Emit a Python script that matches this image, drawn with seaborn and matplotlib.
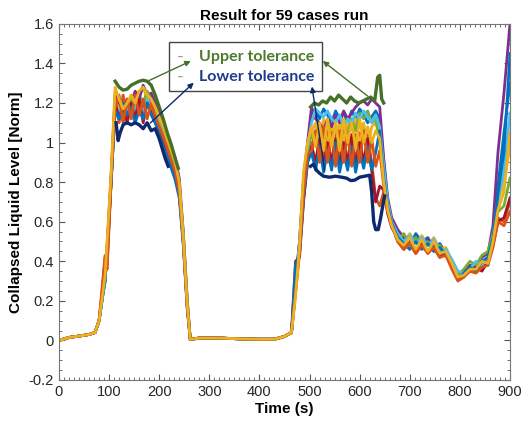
"""
Collapsed liquid level for the 59 cases run, with upper and lower tolerance.
"""

import pandas as pd
import matplotlib
matplotlib.use('Agg')
import matplotlib.pyplot as plt
import matplotlib.ticker as mticker
from matplotlib.patches import Rectangle
import seaborn as sns

# Time bases (s)
t_start = [0, 20, 40, 60, 72]
t_w1 = [80, 88, 92, 96, 104, 112, 120, 128, 136, 144, 152, 160, 168, 176, 184,
        192, 200, 208, 216, 224, 232, 240, 248, 256, 262]
t_mid = [280, 320, 360, 400, 430, 450, 464]
t_w2 = [472, 480, 488, 496, 504, 512, 520, 528, 536, 544, 552, 560, 568, 576, 584,
        592, 600, 608, 616, 624, 632, 640, 648, 656, 664, 676, 688, 700, 712, 724,
        736, 748, 760, 772, 784, 796, 808, 820, 832, 844, 856, 866, 876, 888, 900]

# Parts common to every case
start_vals = [0.0, 0.015, 0.022, 0.03, 0.04]
mid_vals = [0.012, 0.012, 0.008, 0.006, 0.006, 0.02, 0.04]

# First plateau, one row per case
w1_vals = [
    [0.10, 0.24, 0.30, 0.46, 0.80, 1.20, 1.14, 1.22, 1.12, 1.20, 1.15, 1.24, 1.18, 1.25, 1.20, 1.16, 1.12, 1.06, 1.00, 0.94, 0.88, 0.78, 0.52, 0.18, 0.005],
    [0.10, 0.30, 0.42, 0.38, 0.82, 1.22, 1.10, 1.24, 1.12, 1.22, 1.10, 1.25, 1.12, 1.22, 1.16, 1.12, 1.06, 1.02, 0.96, 0.90, 0.84, 0.74, 0.50, 0.16, 0.005],
    [0.10, 0.25, 0.32, 0.48, 0.84, 1.25, 1.18, 1.14, 1.20, 1.18, 1.24, 1.26, 1.28, 1.22, 1.24, 1.19, 1.14, 1.09, 1.03, 0.97, 0.91, 0.80, 0.54, 0.20, 0.005],
    [0.10, 0.24, 0.31, 0.47, 0.82, 1.24, 1.20, 1.16, 1.22, 1.20, 1.26, 1.22, 1.29, 1.24, 1.25, 1.20, 1.15, 1.10, 1.04, 0.98, 0.92, 0.82, 0.55, 0.20, 0.005],
    [0.10, 0.24, 0.30, 0.46, 0.80, 1.22, 1.12, 1.20, 1.16, 1.24, 1.14, 1.22, 1.20, 1.26, 1.21, 1.16, 1.11, 1.05, 0.99, 0.93, 0.87, 0.78, 0.54, 0.20, 0.005],
    [0.10, 0.24, 0.30, 0.46, 0.80, 1.18, 1.16, 1.10, 1.20, 1.12, 1.18, 1.20, 1.14, 1.22, 1.18, 1.14, 1.09, 1.03, 0.97, 0.91, 0.85, 0.76, 0.52, 0.19, 0.005],
    [0.10, 0.28, 0.40, 0.40, 0.80, 1.20, 1.12, 1.18, 1.10, 1.20, 1.12, 1.22, 1.10, 1.20, 1.15, 1.10, 1.06, 1.01, 0.95, 0.89, 0.83, 0.74, 0.50, 0.17, 0.005],
    [0.10, 0.24, 0.30, 0.46, 0.80, 1.16, 1.12, 1.20, 1.14, 1.18, 1.10, 1.16, 1.12, 1.20, 1.14, 1.10, 1.04, 0.98, 0.93, 0.87, 0.81, 0.72, 0.48, 0.16, 0.005],
    [0.10, 0.32, 0.43, 0.36, 0.80, 1.18, 1.24, 1.10, 1.22, 1.12, 1.24, 1.14, 1.22, 1.12, 1.20, 1.13, 1.08, 1.03, 0.97, 0.91, 0.85, 0.75, 0.50, 0.17, 0.005],
    [0.10, 0.25, 0.33, 0.50, 0.85, 1.28, 1.22, 1.17, 1.20, 1.24, 1.20, 1.26, 1.28, 1.24, 1.22, 1.18, 1.13, 1.08, 1.02, 0.96, 0.90, 0.80, 0.52, 0.18, 0.005],
]

# Second plateau and tail, one row per case
w2_vals = [
    [0.30, 0.50, 0.80, 0.98, 1.15, 1.16, 1.12, 1.17, 1.14, 1.10, 1.16, 1.12, 1.15, 1.10, 1.16, 1.12, 1.17, 1.14, 1.10, 1.13, 1.16, 1.12, 0.90,
     0.70, 0.60, 0.53, 0.51, 0.48, 0.54, 0.50, 0.52, 0.47, 0.49, 0.44, 0.40, 0.34, 0.33, 0.38, 0.36, 0.40, 0.38, 0.52, 0.78, 1.05, 1.30],
    [0.25, 0.45, 0.72, 0.92, 1.00, 0.88, 1.05, 0.90, 1.06, 0.88, 1.04, 0.90, 1.06, 0.88, 1.02, 0.90, 1.05, 0.88, 1.04, 0.90, 0.72, 0.68, 0.75,
     0.66, 0.58, 0.50, 0.46, 0.50, 0.45, 0.50, 0.44, 0.48, 0.43, 0.45, 0.38, 0.32, 0.34, 0.36, 0.38, 0.36, 0.42, 0.50, 0.62, 0.60, 0.70],
    [0.26, 0.48, 0.78, 0.96, 1.05, 1.10, 0.96, 1.12, 0.98, 1.10, 0.95, 1.12, 1.00, 1.10, 0.96, 1.12, 0.98, 1.10, 0.96, 1.08, 1.10, 1.04, 0.85,
     0.68, 0.60, 0.55, 0.50, 0.54, 0.49, 0.53, 0.48, 0.52, 0.46, 0.47, 0.40, 0.33, 0.32, 0.37, 0.35, 0.39, 0.40, 0.50, 0.70, 0.80, 0.98],
    [0.28, 0.50, 0.82, 1.00, 1.18, 1.12, 1.10, 1.06, 1.12, 1.08, 1.14, 1.10, 1.16, 1.12, 1.15, 1.18, 1.20, 1.21, 1.19, 1.22, 1.20, 1.18, 0.92,
     0.72, 0.62, 0.56, 0.52, 0.50, 0.52, 0.49, 0.51, 0.48, 0.46, 0.45, 0.40, 0.34, 0.35, 0.38, 0.37, 0.42, 0.44, 0.58, 0.95, 1.25, 1.60],
    [0.25, 0.46, 0.76, 0.95, 1.05, 0.98, 1.08, 1.00, 1.10, 1.02, 1.08, 0.98, 1.10, 1.04, 1.12, 1.06, 1.15, 1.12, 1.16, 1.10, 1.12, 1.00, 0.80,
     0.66, 0.60, 0.51, 0.54, 0.48, 0.52, 0.47, 0.50, 0.45, 0.48, 0.43, 0.39, 0.33, 0.36, 0.40, 0.38, 0.43, 0.45, 0.54, 0.65, 0.68, 0.82],
    [0.27, 0.48, 0.80, 0.98, 1.10, 1.17, 1.15, 1.13, 1.16, 1.12, 1.10, 1.14, 1.08, 1.12, 1.10, 1.15, 1.12, 1.16, 1.13, 1.10, 1.14, 1.08, 0.88,
     0.70, 0.60, 0.54, 0.50, 0.53, 0.49, 0.52, 0.48, 0.51, 0.45, 0.46, 0.41, 0.35, 0.34, 0.36, 0.40, 0.38, 0.41, 0.53, 0.72, 0.85, 1.15],
    [0.40, 0.42, 0.70, 0.90, 0.98, 0.90, 1.02, 0.88, 1.00, 0.90, 1.02, 0.88, 1.00, 0.90, 1.04, 0.88, 1.00, 0.90, 1.02, 0.86, 0.70, 0.78, 0.76,
     0.64, 0.57, 0.52, 0.47, 0.49, 0.44, 0.49, 0.45, 0.47, 0.42, 0.44, 0.37, 0.31, 0.33, 0.35, 0.37, 0.35, 0.40, 0.48, 0.60, 0.62, 0.72],
    [0.38, 0.44, 0.72, 0.90, 0.95, 0.86, 0.98, 0.85, 0.96, 0.86, 1.00, 0.85, 0.95, 0.86, 0.98, 0.85, 0.96, 0.87, 0.98, 0.86, 0.95, 1.06, 0.82,
     0.67, 0.59, 0.52, 0.49, 0.46, 0.50, 0.46, 0.49, 0.45, 0.47, 0.43, 0.38, 0.31, 0.34, 0.37, 0.35, 0.40, 0.42, 0.52, 0.74, 0.95, 1.45],
    [0.24, 0.44, 0.74, 0.94, 0.96, 1.06, 0.90, 1.08, 0.90, 1.05, 0.88, 1.06, 0.90, 1.05, 0.88, 1.04, 0.90, 1.06, 0.90, 1.02, 0.88, 0.96, 0.78,
     0.65, 0.58, 0.50, 0.46, 0.49, 0.44, 0.48, 0.44, 0.47, 0.42, 0.43, 0.36, 0.30, 0.32, 0.35, 0.34, 0.37, 0.38, 0.47, 0.60, 0.58, 0.65],
    [0.22, 0.48, 0.85, 1.00, 1.08, 0.98, 1.10, 0.96, 1.12, 0.98, 1.10, 0.96, 1.12, 1.00, 1.10, 0.97, 1.12, 1.00, 1.08, 1.00, 1.06, 1.02, 0.80,
     0.66, 0.58, 0.51, 0.48, 0.52, 0.46, 0.51, 0.45, 0.50, 0.44, 0.45, 0.39, 0.32, 0.33, 0.36, 0.36, 0.40, 0.39, 0.50, 0.66, 0.75, 1.05],
]

# Tolerance envelopes
upper1_t = [112, 120, 128, 136, 144, 152, 160, 168, 176, 184, 192, 200, 208, 216, 224, 232, 238]
upper1_v = [1.31, 1.28, 1.265, 1.27, 1.29, 1.30, 1.31, 1.315, 1.31, 1.29, 1.24, 1.18, 1.12, 1.05, 0.99, 0.92, 0.87]
lower1_t = [114, 118, 122, 128, 136, 144, 152, 160, 168, 176, 184, 192, 200, 206, 212, 218]
lower1_v = [1.10, 1.01, 1.05, 1.09, 1.10, 1.09, 1.10, 1.09, 1.07, 1.10, 1.06, 1.07, 1.02, 0.97, 0.92, 0.88]
upper2_t = [502, 510, 518, 526, 534, 542, 550, 558, 566, 574, 582, 590, 598, 606, 614, 622, 630, 636, 640, 644, 648]
upper2_v = [1.18, 1.20, 1.19, 1.21, 1.20, 1.23, 1.21, 1.24, 1.22, 1.20, 1.23, 1.21, 1.20, 1.21, 1.22, 1.23, 1.21, 1.33, 1.34, 1.22, 1.20]
lower2_t = [502, 508, 514, 520, 528, 540, 552, 564, 574, 582, 590, 600, 610, 620, 624, 628, 632, 637, 642, 646, 650]
lower2_v = [0.88, 0.89, 0.86, 0.845, 0.83, 0.825, 0.83, 0.825, 0.82, 0.808, 0.81, 0.825, 0.83, 0.835, 0.75, 0.60, 0.56, 0.56, 0.62, 0.68, 0.73]

matlab_colors = ['#0072BD', '#D95319', '#EDB120', '#7E2F8E', '#77AC30', '#4DBEEE', '#A2142F']
green_tol = '#46702A'
navy_tol = '#0E2A6E'

# Long table for seaborn
rows = []
for i in range(len(w1_vals)):
    tt = t_start + t_w1 + t_mid + t_w2
    vv = start_vals + w1_vals[i] + mid_vals + w2_vals[i]
    for t, v in zip(tt, vv):
        rows.append({'time': t, 'level': v, 'case': i})
df = pd.DataFrame(rows)
palette = [matlab_colors[i % 7] for i in range(len(w1_vals))]

fig = plt.figure(figsize=(5.22, 4.26), dpi=100)
ax = fig.add_axes([0.113, 0.108, 0.864, 0.836])

sns.lineplot(data=df, x='time', y='level', hue='case', palette=palette,
             estimator=None, sort=False, legend=False, lw=2.0, ax=ax)

for tt, vv, c in [(upper1_t, upper1_v, green_tol), (lower1_t, lower1_v, navy_tol),
                  (upper2_t, upper2_v, green_tol), (lower2_t, lower2_v, navy_tol)]:
    sns.lineplot(x=tt, y=vv, color=c, lw=2.4, sort=False, estimator=None, ax=ax)

ax.set_xlim(0, 900)
ax.set_ylim(-0.2, 1.6)
ax.xaxis.set_major_locator(mticker.MultipleLocator(100))
ax.xaxis.set_minor_locator(mticker.MultipleLocator(10))
ax.yaxis.set_major_locator(mticker.MultipleLocator(0.2))
ax.yaxis.set_minor_locator(mticker.MultipleLocator(0.05))
ax.yaxis.set_major_formatter(mticker.FuncFormatter(lambda v, p: f'{v:g}' if abs(v) > 1e-9 else '0'))
ax.tick_params(which='both', direction='in', top=True, right=True, colors='#555555',
               labelcolor='#262626', labelsize=10.5)
ax.tick_params(which='major', length=4)
ax.tick_params(which='minor', length=2)
for s in ax.spines.values():
    s.set_color('#777777')
    s.set_linewidth(0.8)

font = 'Liberation Sans'
for lab in ax.get_xticklabels() + ax.get_yticklabels():
    lab.set_family(font)
ax.set_xlabel('Time (s)', fontsize=11, fontweight='bold', family=font, labelpad=2)
ax.set_ylabel('Collapsed Liquid Level [Norm]', fontsize=11, fontweight='bold', family=font, labelpad=4)
ax.set_title('Result for 59 cases run', fontsize=11, fontweight='bold', family=font, pad=3)

# Annotation box
ax.add_patch(Rectangle((0.244, 0.812), 0.339, 0.137, transform=ax.transAxes,
                       fill=True, facecolor='white', edgecolor='#444444', lw=1, zorder=5))
ax.text(236, 1.435, '-', color='#a89a88', fontsize=13, family='Lato', va='center', zorder=6)
ax.text(236, 1.330, '-', color='#a89a88', fontsize=13, family='Lato', va='center', zorder=6)
ax.text(279, 1.435, 'Upper tolerance', color='#4E7A2E', fontsize=11.5, fontweight='bold',
        family='Lato', va='center', zorder=6)
ax.text(279, 1.330, 'Lower tolerance', color='#1F3C8C', fontsize=11.5, fontweight='bold',
        family='Lato', va='center', zorder=6)

arrow_g = dict(arrowstyle='-|>', color=green_tol, lw=1, mutation_scale=8)
arrow_n = dict(arrowstyle='-|>', color=navy_tol, lw=1, mutation_scale=8)
ax.annotate('', xy=(268, 1.418), xytext=(175, 1.308), arrowprops=arrow_g, zorder=7)
ax.annotate('', xy=(522, 1.421), xytext=(620, 1.227), arrowprops=arrow_g, zorder=7)
ax.annotate('', xy=(273, 1.312), xytext=(178, 1.089), arrowprops=arrow_n, zorder=7)
ax.annotate('', xy=(504, 1.297), xytext=(531, 0.845), arrowprops=arrow_n, zorder=7)

fig.savefig('out.png', dpi=100)
